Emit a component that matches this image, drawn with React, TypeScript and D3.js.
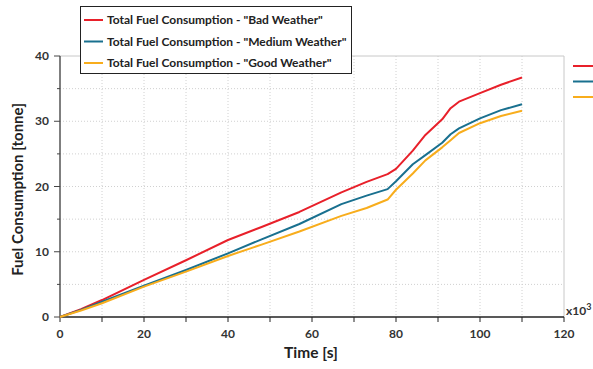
import React from "react";
import * as d3 from "d3";

const time = [0, 5, 10, 20, 30, 40, 48, 57, 67, 73, 78, 80, 84, 87, 91, 93, 95, 100, 105, 110];
const badWeather = [0, 1.2, 2.6, 5.7, 8.7, 11.8, 13.8, 16.1, 19.1, 20.7, 21.9, 22.7, 25.5, 27.9, 30.3, 32.0, 33.0, 34.3, 35.6, 36.7];
const mediumWeather = [0, 1.1, 2.35, 4.8, 7.2, 9.75, 11.9, 14.25, 17.3, 18.6, 19.6, 20.8, 23.4, 24.8, 26.7, 28.0, 28.9, 30.45, 31.7, 32.6];
const goodWeather = [0, 1.0, 2.1, 4.65, 6.95, 9.35, 11.1, 13.1, 15.5, 16.7, 18.0, 19.5, 22.0, 24.0, 26.0, 27.1, 28.2, 29.7, 30.8, 31.6];

const seriesNames = [
  'Total Fuel Consumption - "Bad Weather"',
  'Total Fuel Consumption - "Medium Weather"',
  'Total Fuel Consumption - "Good Weather"',
];
const seriesColors = ["#e8202a", "#19708f", "#f8ad1c"];
const xTicks = [0, 20, 40, 60, 80, 100, 120];
const yTicks = [0, 10, 20, 30, 40];

export default function App() {
  const W = 593, H = 369;
  const x = d3.scaleLinear().domain([0, 120]).range([60, 564]);
  const y = d3.scaleLinear().domain([0, 40]).range([317, 56]);
  const series = [badWeather, mediumWeather, goodWeather];
  const line = d3
    .line<number>()
    .x((_, i) => x(time[i]))
    .y((d) => y(d))
    .curve(d3.curveLinear);
  const font = "Lato, 'Open Sans', sans-serif";
  const gridX = d3.range(10, 120, 10);
  const gridY = d3.range(5, 40, 5);
  const minorX = d3.range(0, 121, 10);
  const minorY = d3.range(0, 41, 5);

  return (
    <svg width={W} height={H} style={{ position: "absolute", left: 0, top: 0, background: "#fff" }}>
      {gridX.map((v) => (
        <line key={"gx" + v} x1={x(v)} x2={x(v)} y1={y(40)} y2={y(0)} stroke="#d0d0d0" strokeDasharray="1,2" />
      ))}
      {gridY.map((v) => (
        <line key={"gy" + v} x1={x(0)} x2={x(120)} y1={y(v)} y2={y(v)} stroke="#d0d0d0" strokeDasharray="1,2" />
      ))}
      <line x1={x(0)} x2={x(120)} y1={y(40)} y2={y(40)} stroke="#c8c8c8" />
      <line x1={x(120)} x2={x(120)} y1={y(40)} y2={y(0)} stroke="#c8c8c8" />
      <line x1={x(0)} x2={x(0)} y1={y(40)} y2={y(0)} stroke="#555" strokeWidth={1.5} />
      <line x1={x(0)} x2={x(120)} y1={y(0)} y2={y(0)} stroke="#222" strokeWidth={1.5} />
      {minorX.map((v) => (
        <line key={"tx" + v} x1={x(v)} x2={x(v)} y1={y(0)} y2={y(0) + 5} stroke="#222" />
      ))}
      {minorY.map((v) => (
        <line key={"ty" + v} x1={x(0) - (v % 10 === 0 ? 6 : 3)} x2={x(0)} y1={y(v)} y2={y(v)} stroke="#444" />
      ))}
      {xTicks.map((v) => (
        <text key={"lx" + v} x={x(v)} y={338} textAnchor="middle" fontFamily={font} fontWeight="bold" fontSize={12} fill="#333">
          {v}
        </text>
      ))}
      {yTicks.map((v) => (
        <text key={"ly" + v} x={49} y={y(v) + 4} textAnchor="end" fontFamily={font} fontWeight="bold" fontSize={12} fill="#333">
          {v}
        </text>
      ))}
      <text x={566} y={315} fontFamily={font} fontWeight="bold" fontSize={12} fill="#333">
        x10
        <tspan dy={-5} fontSize={9}>3</tspan>
      </text>
      <text x={311} y={358} textAnchor="middle" fontFamily={font} fontWeight="bold" fontSize={15.5} fill="#222">
        Time [s]
      </text>
      <text
        transform={`translate(23,${(56 + 317) / 2 + 3}) rotate(-90)`}
        textAnchor="middle"
        fontFamily={font}
        fontWeight="bold"
        fontSize={15}
        fill="#222"
      >
        Fuel Consumption [tonne]
      </text>
      {series.map((s, i) => (
        <path key={"s" + i} d={line(s) || ""} fill="none" stroke={seriesColors[i]} strokeWidth={2} strokeLinejoin="round" />
      ))}
      {seriesColors.map((c, i) => (
        <line key={"rl" + i} x1={573} x2={593} y1={66 + i * 15.5} y2={66 + i * 15.5} stroke={c} strokeWidth={2} />
      ))}
      <rect x={80.5} y={6.5} width={271} height={67} fill="#fff" stroke="#222" />
      {seriesNames.map((n, i) => (
        <g key={"lg" + i}>
          <line x1={84} x2={103} y1={20 + i * 21.5} y2={20 + i * 21.5} stroke={seriesColors[i]} strokeWidth={2} />
          <text x={107} y={24 + i * 21.5} fontFamily={font} fontWeight="bold" fontSize={12} fill="#222">
            {n}
          </text>
        </g>
      ))}
    </svg>
  );
}
